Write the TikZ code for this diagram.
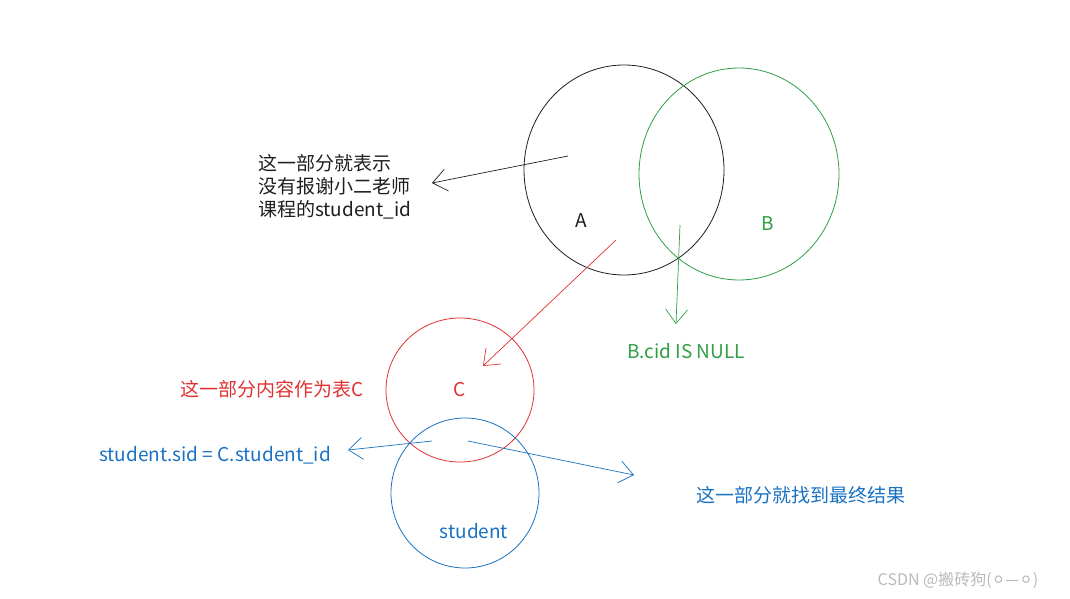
\documentclass[tikz,border=0pt]{standalone}
\usepackage{fontspec}
\setmainfont{Noto Sans CJK SC}
\newfontfamily\djv{DejaVu Sans}
\usetikzlibrary{arrows.meta}
\definecolor{cblack}{HTML}{1E1E1E}
\definecolor{cgreen}{HTML}{2F9E44}
\definecolor{cred}{HTML}{E03131}
\definecolor{cblue}{HTML}{1971C2}
\begin{document}
\begin{tikzpicture}[x=1pt,y=-1pt,
  circ/.style={line width=0.8pt},
  arr/.style={line width=0.7pt,-{Straight Barb[length=14pt,width=22pt,line width=0.7pt]}},
  lbl/.style={font=\fontsize{19}{23}\selectfont,inner sep=0pt}]
\useasboundingbox (0,0) rectangle (1070,599);
\draw[circ,cblack] (624,170) ellipse [x radius=100,y radius=105];
\draw[circ,cgreen] (739,174) ellipse [x radius=100,y radius=106];
\draw[circ,cred] (460,390) ellipse [x radius=74,y radius=72];
\draw[circ,cblue] (465,493) ellipse [x radius=74,y radius=75];
\node[lbl,text=cblack] (A) at (581,221) {A};
\node[lbl,text=cgreen] (B) at (768,224) {B};
\node[lbl,text=cred] (C) at (460,390) {C};
\node[lbl,text=cblue] (st) at (474,531) {student};
\node[lbl,text=cblack,anchor=west,align=left] (t1) at (258,187) {这一部分就表示\\[0pt]没有报谢小二老师\\[0pt]课程的student\_id};
\node[lbl,text=cgreen] (t2) at (686,351) {B.cid IS NULL};
\node[lbl,text=cred] (t3) at (272,389) {这一部分内容作为表C};
\node[lbl,text=cblue] (t4) at (215,455) {student.sid = C.student\_id};
\node[lbl,text=cblue] (t5) at (801,495) {这一部分就找到最终结果};
\node[lbl,text=gray!55,font=\fontsize{16}{18}\selectfont] (wm) at (958,580) {CSDN @搬砖狗({\djv ⚪}—{\djv ⚪})};
\coordinate (a1s) at (568,156); \coordinate (a1e) at (432,183);
\coordinate (a2s) at (616,240); \coordinate (a2e) at (483,366);
\coordinate (a3s) at (680,225); \coordinate (a3e) at (676,324);
\coordinate (a4s) at (432,441); \coordinate (a4e) at (348,450);
\coordinate (a5s) at (468,441); \coordinate (a5e) at (634,475);
\draw[arr,cblack] (a1s) -- (a1e);
\draw[arr,cred] (a2s) -- (a2e);
\draw[arr,cgreen] (a3s) -- (a3e);
\draw[arr,cblue] (a4s) -- (a4e);
\draw[arr,cblue] (a5s) -- (a5e);
\end{tikzpicture}
\end{document}
